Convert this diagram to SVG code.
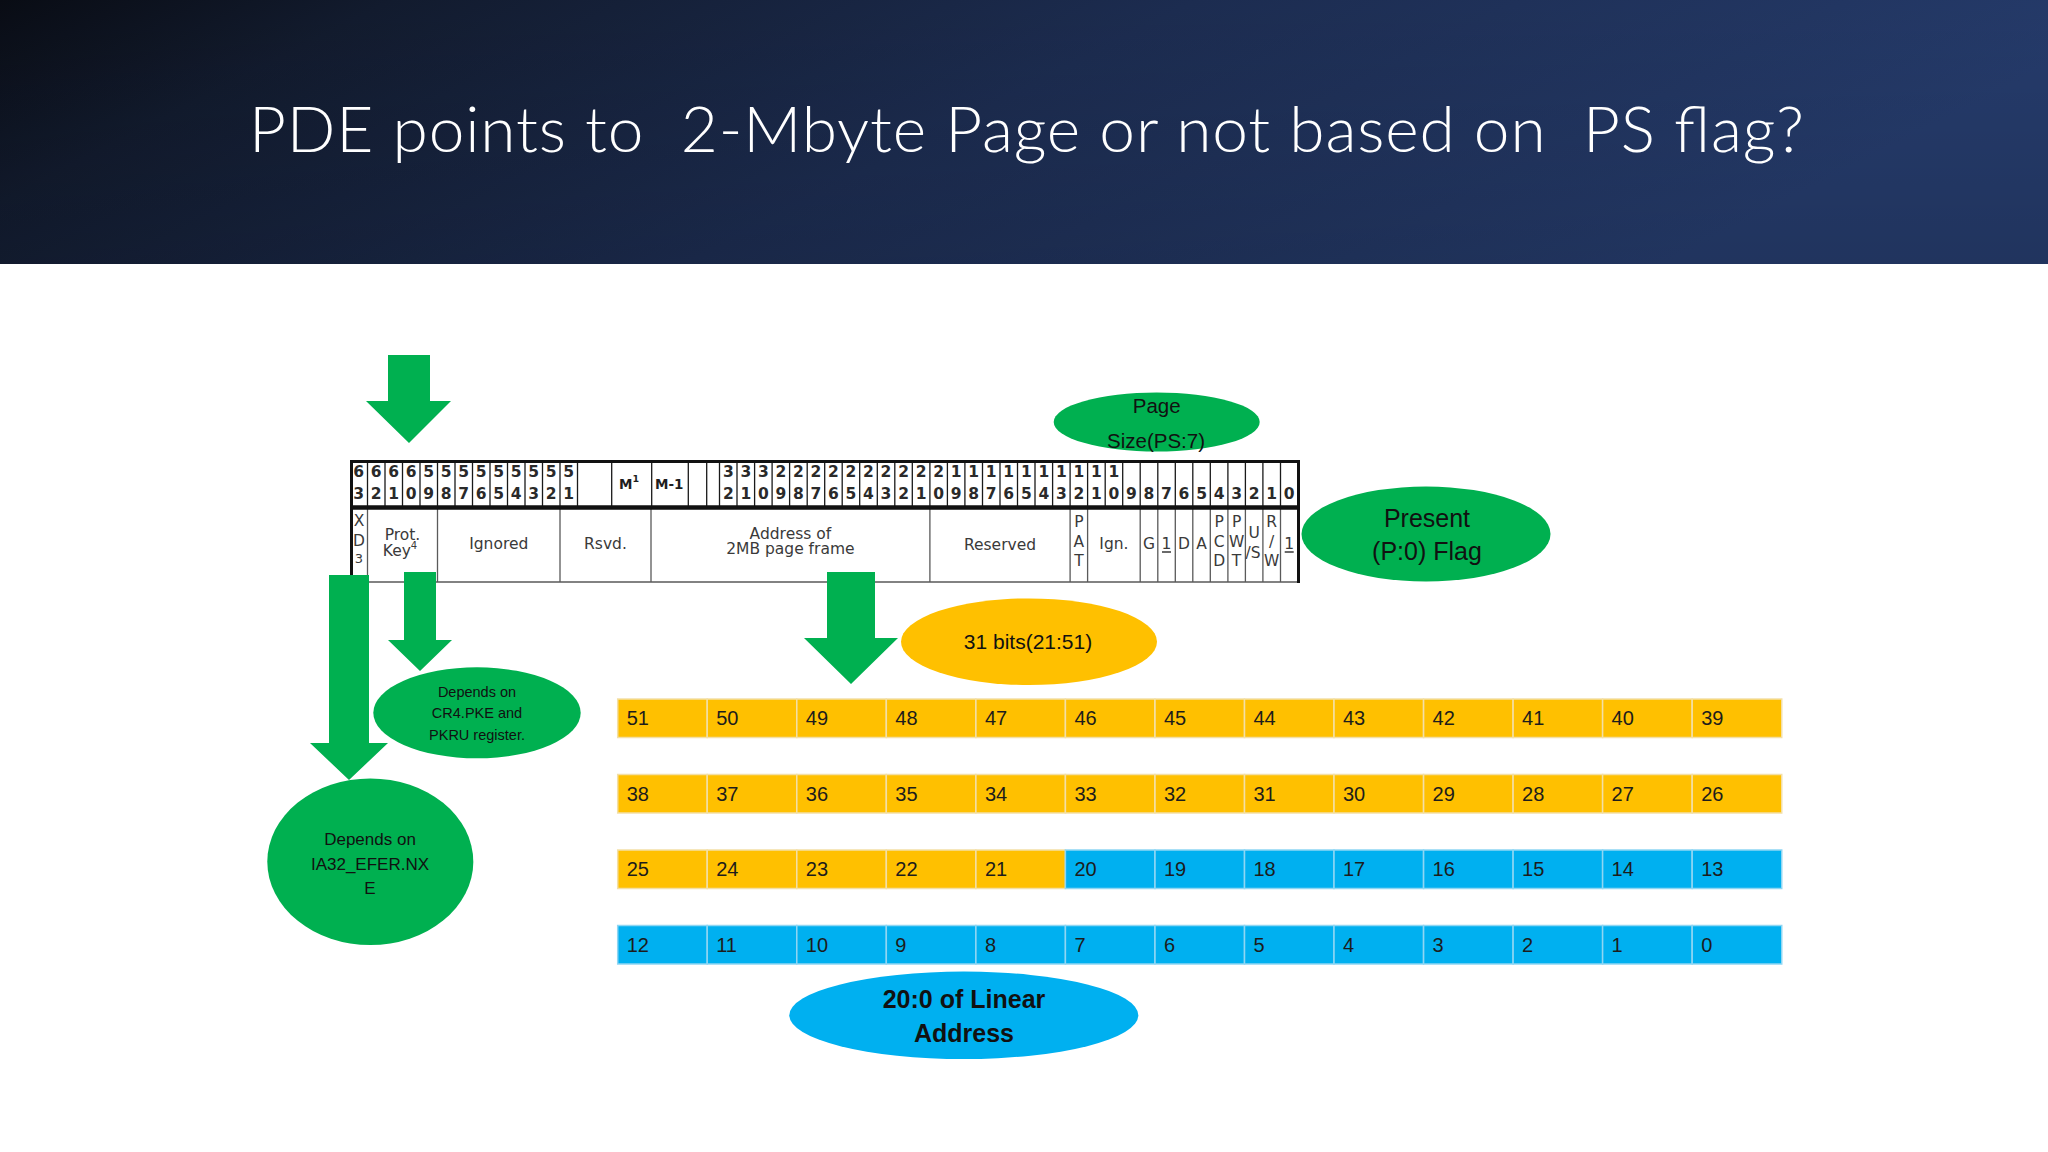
<svg xmlns="http://www.w3.org/2000/svg" width="2048" height="1152" viewBox="0 0 2048 1152">
<defs>
<linearGradient id="bannerGrad" x1="0" y1="0" x2="1" y2="0.25">
<stop offset="0" stop-color="#090c14"/>
<stop offset="0.18" stop-color="#121b2e"/>
<stop offset="0.55" stop-color="#1c2c50"/>
<stop offset="1" stop-color="#253b6b"/>
</linearGradient>
<linearGradient id="bannerShade" x1="0" y1="0" x2="0" y2="1">
<stop offset="0" stop-color="#000" stop-opacity="0"/>
<stop offset="1" stop-color="#000" stop-opacity="0.12"/>
</linearGradient>
<style>
.hd{font-family:"DejaVu Sans",sans-serif;font-size:15.5px;font-weight:bold;fill:#2a2a2a;text-anchor:middle}
.bd{font-family:"DejaVu Sans",sans-serif;font-size:15.5px;fill:#3a3a3a;text-anchor:middle}
.sm{font-family:"DejaVu Sans",sans-serif;font-size:13px;fill:#3a3a3a;text-anchor:middle}
.mm{font-family:"DejaVu Sans",sans-serif;font-size:13.5px;font-weight:bold;fill:#1e1e1e}
.thin{stroke:#1a1a1a;stroke-width:1.3;fill:none}
.bline{stroke:#5a5a5a;stroke-width:1.3;fill:none}
.thick{stroke:#111;fill:none}
.arrow{fill:#00B050}
.eg{fill:#00B050}
.ey{fill:#FFC000}
.eb{fill:#00B0F0}
.et{font-family:"Liberation Sans",Arial,sans-serif;fill:#111;text-anchor:middle}
.o{fill:#FFC000;stroke:#f3dfa6;stroke-width:1.5}
.b{fill:#00B0F0;stroke:#8fd6f3;stroke-width:1.5}
.n{font-family:"Liberation Sans",Arial,sans-serif;font-size:20px;fill:#1c1c1c}
</style>
</defs>
<rect x="0" y="0" width="2048" height="1152" fill="#ffffff"/>
<g id="banner">
<rect x="0" y="0" width="2048" height="264" fill="url(#bannerGrad)"/>
<rect x="0" y="0" width="2048" height="264" fill="url(#bannerShade)"/>
<text id="title" x="249" y="151.7" xml:space="preserve" textLength="1555" lengthAdjust="spacing" font-family="Lato,'Open Sans',sans-serif" font-weight="300" font-size="64" fill="#ffffff">PDE points to  2-Mbyte Page or not based on  PS flag?</text>
</g>

<g id="register-table">
<rect x="350" y="462" width="948.5" height="120" fill="#ffffff"/>
<path class="thin" d="M367.5 462V506M385 462V506M402.5 462V506M420 462V506M437.5 462V506M455 462V506M472.5 462V506M490 462V506M507.5 462V506M525 462V506M542.5 462V506M560 462V506M577.5 462V506M611.7 462V506M651.7 462V506M688.3 462V506M706.7 462V506M719.5 462V506M737 462V506M754.6 462V506M772.1 462V506M789.6 462V506M807.2 462V506M824.7 462V506M842.2 462V506M859.7 462V506M877.3 462V506M894.8 462V506M912.3 462V506M929.9 462V506M947.4 462V506M964.9 462V506M982.5 462V506M1000 462V506M1017.5 462V506M1035 462V506M1052.6 462V506M1070.1 462V506M1087.6 462V506M1105.2 462V506M1122.7 462V506M1140.2 462V506M1157.8 462V506M1175.3 462V506M1192.8 462V506M1210.3 462V506M1227.9 462V506M1245.4 462V506M1262.9 462V506M1280.5 462V506"/>
<path class="bline" d="M367.5 509V582M437.5 509V582M560 509V582M651 509V582M929.9 509V582M1070.1 509V582M1087.6 509V582M1140.2 509V582M1157.8 509V582M1175.3 509V582M1192.8 509V582M1210.3 509V582M1227.9 509V582M1245.4 509V582M1262.9 509V582M1280.5 509V582M351 582H1298"/>
<path class="thick" stroke-width="3" d="M350 461.5H1299.5"/>
<path class="thick" stroke-width="4.5" d="M350 507.5H1299.5"/>
<path class="thick" stroke-width="3" d="M351.5 460V583M1298.5 460V583"/>
<text class="hd" x="358.75 376.25 393.75 411.25 428.75 446.25 463.75 481.25 498.75 516.25 533.75 551.25 568.75" y="477">6666555555555</text>
<text class="hd" x="358.75 376.25 393.75 411.25 428.75 446.25 463.75 481.25 498.75 516.25 533.75 551.25 568.75" y="499">3210987654321</text>
<text class="mm" x="619" y="489">M<tspan font-size="9.5" dy="-7">1</tspan></text>
<text class="mm" x="655" y="489">M-1</text>
<text class="hd" x="728.3 745.8 763.3 780.9 798.4 815.9 833.4 851 868.5 886 903.6 921.1 938.6 956.2 973.7 991.2 1008.7 1026.3 1043.8 1061.3 1078.9 1096.4 1113.9" y="477">33322222222221111111111</text>
<text class="hd" x="728.3 745.8 763.3 780.9 798.4 815.9 833.4 851 868.5 886 903.6 921.1 938.6 956.2 973.7 991.2 1008.7 1026.3 1043.8 1061.3 1078.9 1096.4 1113.9 1131.5 1149 1166.5 1184 1201.6 1219.1 1236.6 1254.2 1271.7 1289.2" y="499">210987654321098765432109876543210</text>
<text class="bd" x="359" y="526">X</text>
<text class="bd" x="359" y="546">D</text>
<text class="sm" x="359" y="563" font-size="11.5">3</text>
<text class="bd" x="402.5" y="540">Prot.</text>
<text class="bd" x="400" y="556">Key<tspan font-size="10" dy="-7">4</tspan></text>
<text class="bd" x="498.75" y="549">Ignored</text>
<text class="bd" x="605.5" y="549">Rsvd.</text>
<text class="bd" x="790.4" y="539">Address of</text>
<text class="bd" x="790.4" y="554">2MB page frame</text>
<text class="bd" x="1000" y="550">Reserved</text>
<text class="bd" x="1078.9" y="527">P</text>
<text class="bd" x="1078.9" y="547">A</text>
<text class="bd" x="1078.9" y="566">T</text>
<text class="bd" x="1113.9" y="549">Ign.</text>
<text class="bd" x="1149" y="549">G</text>
<text class="bd" x="1166.5" y="549">1</text>
<path class="thin" d="M1162 552H1171"/>
<text class="bd" x="1184" y="549">D</text>
<text class="bd" x="1201.6" y="549">A</text>
<text class="bd" x="1219.1" y="527">P</text>
<text class="bd" x="1219.1" y="547">C</text>
<text class="bd" x="1219.1" y="566">D</text>
<text class="bd" x="1236.6" y="527">P</text>
<text class="bd" x="1236.6" y="547">W</text>
<text class="bd" x="1236.6" y="566">T</text>
<text class="bd" x="1254.2" y="538">U</text>
<text class="bd" x="1253" y="558">/S</text>
<text class="bd" x="1271.7" y="527">R</text>
<text class="bd" x="1271.7" y="547">/</text>
<text class="bd" x="1271.7" y="566">W</text>
<text class="bd" x="1289.2" y="549">1</text>
<path class="thin" d="M1284.7 552H1293.7"/>
</g>

<g id="connectors">
<polygon id="arrow-top" class="arrow" points="388,355 430,355 430,401 451,401 409,443 366,401 388,401"/>
<polygon id="arrow-xd" class="arrow" points="329,575 369,575 369,743 388,743 349,780 310,743 329,743"/>
<polygon id="arrow-pk" class="arrow" points="404,572 436,572 436,640 452,640 420,671 388,640 404,640"/>
<polygon id="arrow-addr" class="arrow" points="827,572 875,572 875,638 898,638 851,684 804,638 827,638"/>
</g>

<g id="node-page-size">
<ellipse class="eg" cx="1156.7" cy="422" rx="103" ry="29.5"/>
<text class="et" x="1156.7" y="412.5" font-size="20.5">Page</text>
<text class="et" x="1156" y="447.5" font-size="20.5">Size(PS:7)</text>
</g>
<g id="node-present">
<ellipse class="eg" cx="1426" cy="534" rx="124.5" ry="47.5"/>
<text class="et" x="1427" y="526.7" font-size="25">Present</text>
<text class="et" x="1427" y="560" font-size="25">(P:0) Flag</text>
</g>
<g id="node-31bits">
<ellipse class="ey" cx="1029" cy="641.7" rx="128" ry="43.3"/>
<text class="et" x="1028" y="649" font-size="21">31 bits(21:51)</text>
</g>
<g id="node-cr4">
<ellipse class="eg" cx="477" cy="712.8" rx="103.7" ry="45.5"/>
<text class="et" x="477" y="696.5" font-size="14.5">Depends on</text>
<text class="et" x="477" y="717.5" font-size="14.5">CR4.PKE and</text>
<text class="et" x="477" y="740" font-size="14.5">PKRU register.</text>
</g>
<g id="node-nxe">
<ellipse class="eg" cx="370.3" cy="861.7" rx="103" ry="83.3"/>
<text class="et" x="370" y="845" font-size="17">Depends on</text>
<text class="et" x="370" y="870" font-size="17">IA32_EFER.NX</text>
<text class="et" x="370" y="894" font-size="17">E</text>
</g>
<g id="node-linear">
<ellipse class="eb" cx="963.8" cy="1015.3" rx="174.5" ry="43.7"/>
<text class="et" x="964" y="1007.7" font-size="25" font-weight="bold">20:0 of Linear</text>
<text class="et" x="964" y="1042.3" font-size="25" font-weight="bold">Address</text>
</g>

<g id="bits-grid">
<g id="bit-51"><rect class="o" x="617.7" y="699" width="89.54" height="38.5"/><text class="n" x="626.7" y="725">51</text></g>
<g id="bit-50"><rect class="o" x="707.2" y="699" width="89.54" height="38.5"/><text class="n" x="716.2" y="725">50</text></g>
<g id="bit-49"><rect class="o" x="796.8" y="699" width="89.54" height="38.5"/><text class="n" x="805.8" y="725">49</text></g>
<g id="bit-48"><rect class="o" x="886.3" y="699" width="89.54" height="38.5"/><text class="n" x="895.3" y="725">48</text></g>
<g id="bit-47"><rect class="o" x="975.9" y="699" width="89.54" height="38.5"/><text class="n" x="984.9" y="725">47</text></g>
<g id="bit-46"><rect class="o" x="1065.4" y="699" width="89.54" height="38.5"/><text class="n" x="1074.4" y="725">46</text></g>
<g id="bit-45"><rect class="o" x="1155" y="699" width="89.54" height="38.5"/><text class="n" x="1164" y="725">45</text></g>
<g id="bit-44"><rect class="o" x="1244.5" y="699" width="89.54" height="38.5"/><text class="n" x="1253.5" y="725">44</text></g>
<g id="bit-43"><rect class="o" x="1334" y="699" width="89.54" height="38.5"/><text class="n" x="1343" y="725">43</text></g>
<g id="bit-42"><rect class="o" x="1423.6" y="699" width="89.54" height="38.5"/><text class="n" x="1432.6" y="725">42</text></g>
<g id="bit-41"><rect class="o" x="1513.1" y="699" width="89.54" height="38.5"/><text class="n" x="1522.1" y="725">41</text></g>
<g id="bit-40"><rect class="o" x="1602.6" y="699" width="89.54" height="38.5"/><text class="n" x="1611.6" y="725">40</text></g>
<g id="bit-39"><rect class="o" x="1692.2" y="699" width="89.54" height="38.5"/><text class="n" x="1701.2" y="725">39</text></g>

<g id="bit-38"><rect class="o" x="617.7" y="774.5" width="89.54" height="38.5"/><text class="n" x="626.7" y="800.5">38</text></g>
<g id="bit-37"><rect class="o" x="707.2" y="774.5" width="89.54" height="38.5"/><text class="n" x="716.2" y="800.5">37</text></g>
<g id="bit-36"><rect class="o" x="796.8" y="774.5" width="89.54" height="38.5"/><text class="n" x="805.8" y="800.5">36</text></g>
<g id="bit-35"><rect class="o" x="886.3" y="774.5" width="89.54" height="38.5"/><text class="n" x="895.3" y="800.5">35</text></g>
<g id="bit-34"><rect class="o" x="975.9" y="774.5" width="89.54" height="38.5"/><text class="n" x="984.9" y="800.5">34</text></g>
<g id="bit-33"><rect class="o" x="1065.4" y="774.5" width="89.54" height="38.5"/><text class="n" x="1074.4" y="800.5">33</text></g>
<g id="bit-32"><rect class="o" x="1155" y="774.5" width="89.54" height="38.5"/><text class="n" x="1164" y="800.5">32</text></g>
<g id="bit-31"><rect class="o" x="1244.5" y="774.5" width="89.54" height="38.5"/><text class="n" x="1253.5" y="800.5">31</text></g>
<g id="bit-30"><rect class="o" x="1334" y="774.5" width="89.54" height="38.5"/><text class="n" x="1343" y="800.5">30</text></g>
<g id="bit-29"><rect class="o" x="1423.6" y="774.5" width="89.54" height="38.5"/><text class="n" x="1432.6" y="800.5">29</text></g>
<g id="bit-28"><rect class="o" x="1513.1" y="774.5" width="89.54" height="38.5"/><text class="n" x="1522.1" y="800.5">28</text></g>
<g id="bit-27"><rect class="o" x="1602.6" y="774.5" width="89.54" height="38.5"/><text class="n" x="1611.6" y="800.5">27</text></g>
<g id="bit-26"><rect class="o" x="1692.2" y="774.5" width="89.54" height="38.5"/><text class="n" x="1701.2" y="800.5">26</text></g>

<g id="bit-25"><rect class="o" x="617.7" y="850" width="89.54" height="38.5"/><text class="n" x="626.7" y="876">25</text></g>
<g id="bit-24"><rect class="o" x="707.2" y="850" width="89.54" height="38.5"/><text class="n" x="716.2" y="876">24</text></g>
<g id="bit-23"><rect class="o" x="796.8" y="850" width="89.54" height="38.5"/><text class="n" x="805.8" y="876">23</text></g>
<g id="bit-22"><rect class="o" x="886.3" y="850" width="89.54" height="38.5"/><text class="n" x="895.3" y="876">22</text></g>
<g id="bit-21"><rect class="o" x="975.9" y="850" width="89.54" height="38.5"/><text class="n" x="984.9" y="876">21</text></g>
<g id="bit-20"><rect class="b" x="1065.4" y="850" width="89.54" height="38.5"/><text class="n" x="1074.4" y="876">20</text></g>
<g id="bit-19"><rect class="b" x="1155" y="850" width="89.54" height="38.5"/><text class="n" x="1164" y="876">19</text></g>
<g id="bit-18"><rect class="b" x="1244.5" y="850" width="89.54" height="38.5"/><text class="n" x="1253.5" y="876">18</text></g>
<g id="bit-17"><rect class="b" x="1334" y="850" width="89.54" height="38.5"/><text class="n" x="1343" y="876">17</text></g>
<g id="bit-16"><rect class="b" x="1423.6" y="850" width="89.54" height="38.5"/><text class="n" x="1432.6" y="876">16</text></g>
<g id="bit-15"><rect class="b" x="1513.1" y="850" width="89.54" height="38.5"/><text class="n" x="1522.1" y="876">15</text></g>
<g id="bit-14"><rect class="b" x="1602.6" y="850" width="89.54" height="38.5"/><text class="n" x="1611.6" y="876">14</text></g>
<g id="bit-13"><rect class="b" x="1692.2" y="850" width="89.54" height="38.5"/><text class="n" x="1701.2" y="876">13</text></g>

<g id="bit-12"><rect class="b" x="617.7" y="925.5" width="89.54" height="38.5"/><text class="n" x="626.7" y="951.5">12</text></g>
<g id="bit-11"><rect class="b" x="707.2" y="925.5" width="89.54" height="38.5"/><text class="n" x="716.2" y="951.5">11</text></g>
<g id="bit-10"><rect class="b" x="796.8" y="925.5" width="89.54" height="38.5"/><text class="n" x="805.8" y="951.5">10</text></g>
<g id="bit-9"><rect class="b" x="886.3" y="925.5" width="89.54" height="38.5"/><text class="n" x="895.3" y="951.5">9</text></g>
<g id="bit-8"><rect class="b" x="975.9" y="925.5" width="89.54" height="38.5"/><text class="n" x="984.9" y="951.5">8</text></g>
<g id="bit-7"><rect class="b" x="1065.4" y="925.5" width="89.54" height="38.5"/><text class="n" x="1074.4" y="951.5">7</text></g>
<g id="bit-6"><rect class="b" x="1155" y="925.5" width="89.54" height="38.5"/><text class="n" x="1164" y="951.5">6</text></g>
<g id="bit-5"><rect class="b" x="1244.5" y="925.5" width="89.54" height="38.5"/><text class="n" x="1253.5" y="951.5">5</text></g>
<g id="bit-4"><rect class="b" x="1334" y="925.5" width="89.54" height="38.5"/><text class="n" x="1343" y="951.5">4</text></g>
<g id="bit-3"><rect class="b" x="1423.6" y="925.5" width="89.54" height="38.5"/><text class="n" x="1432.6" y="951.5">3</text></g>
<g id="bit-2"><rect class="b" x="1513.1" y="925.5" width="89.54" height="38.5"/><text class="n" x="1522.1" y="951.5">2</text></g>
<g id="bit-1"><rect class="b" x="1602.6" y="925.5" width="89.54" height="38.5"/><text class="n" x="1611.6" y="951.5">1</text></g>
<g id="bit-0"><rect class="b" x="1692.2" y="925.5" width="89.54" height="38.5"/><text class="n" x="1701.2" y="951.5">0</text></g>
</g>
</svg>
